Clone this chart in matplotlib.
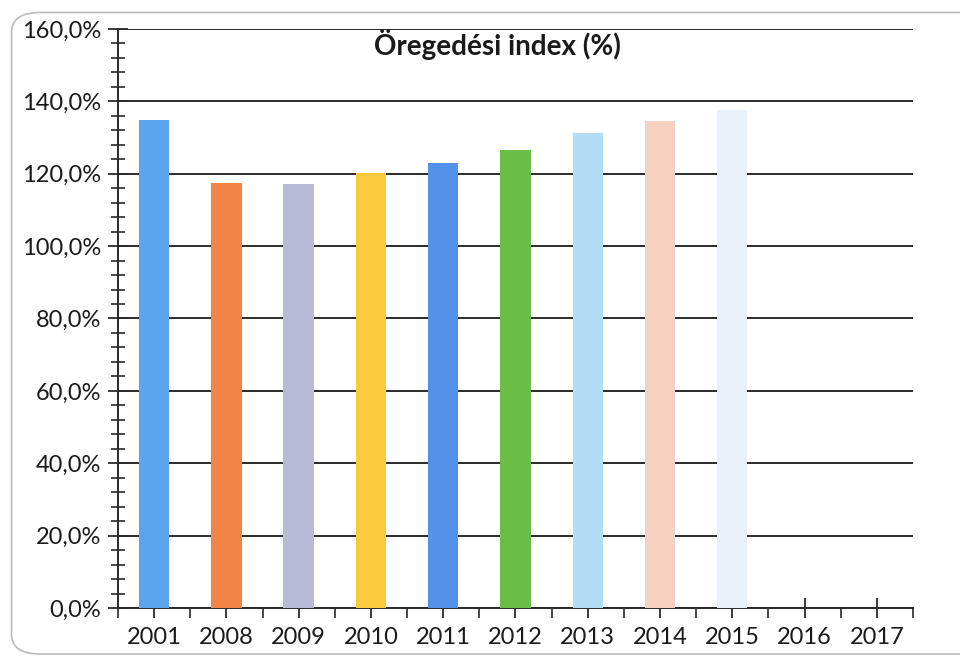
import matplotlib
matplotlib.use("Agg")
import matplotlib.pyplot as plt
import numpy as np
from matplotlib.patches import FancyBboxPatch
from matplotlib.ticker import MultipleLocator, FuncFormatter, FixedLocator

years = ["2001", "2008", "2009", "2010", "2011", "2012", "2013", "2014", "2015", "2016", "2017"]
values = [134.8, 117.4, 117.1, 120.1, 122.9, 126.5, 131.2, 134.5, 137.6, np.nan, np.nan]
colors = ["#5AA5EC", "#F4834A", "#B9BAD8", "#F9C93E", "#5390EA", "#6CBD46",
          "#B3DDF6", "#F6D1C0", "#EAF0FA", "#FFFFFF", "#FFFFFF"]
title = "Öregedési index (%)"

plt.rcParams['font.family'] = ['Lato', 'DejaVu Sans']

fig = plt.figure(figsize=(9.6, 6.58), dpi=100)
fig.patch.set_facecolor("white")

border = FancyBboxPatch((0.012, 0.006), 1.05, 0.975, boxstyle="round,pad=0,rounding_size=0.03",
                        transform=fig.transFigure, facecolor="none", edgecolor="#BBBBBB",
                        linewidth=1.2, zorder=0)
fig.patches.append(border)

ax = fig.add_axes([0.1229, 0.076, 0.951 - 0.1229, 0.956 - 0.076])
x = np.arange(len(years))
ax.bar(x, values, width=0.42, color=colors, zorder=3)

ax.set_xlim(-0.5, len(years) - 0.5)
ax.set_ylim(0, 160)
ax.yaxis.set_major_locator(MultipleLocator(20))
ax.yaxis.set_minor_locator(MultipleLocator(4))
ax.yaxis.set_major_formatter(FuncFormatter(lambda v, p: f"{v:.1f}".replace(".", ",") + "%"))
ax.grid(axis="y", which="major", color="#2A2A2A", linewidth=1.4, zorder=1)
ax.set_axisbelow(True)

ax.set_xticks(x)
ax.set_xticklabels(years)
ax.xaxis.set_minor_locator(FixedLocator(np.arange(-0.5, len(years), 1.0)))

for s in ["top", "right"]:
    ax.spines[s].set_visible(False)
for s in ["left", "bottom"]:
    ax.spines[s].set_color("#2A2A2A")
    ax.spines[s].set_linewidth(1.4)

ax.tick_params(axis="y", which="major", direction="inout", length=14, width=1.3,
               color="#2A2A2A", labelsize=17, labelcolor="#1A1A1A", pad=5)
ax.tick_params(axis="y", which="minor", direction="inout", length=10, width=1.2, color="#2A2A2A")
ax.tick_params(axis="x", which="major", direction="inout", length=14, width=1.3,
               color="#2A2A2A", labelsize=17, labelcolor="#1A1A1A", pad=7)
ax.tick_params(axis="x", which="minor", direction="out", length=7, width=1.2, color="#2A2A2A")

fig.text(0.518, 0.932, title, ha="center", va="center", fontsize=20, fontweight="bold",
         color="#1A1A1A", zorder=5)

fig.savefig("out.png", dpi=100, facecolor="white")
